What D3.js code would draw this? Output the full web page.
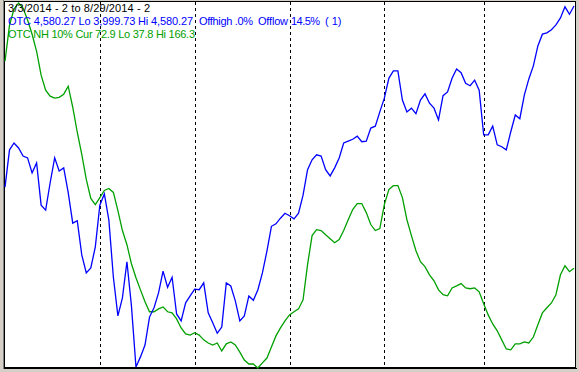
<!DOCTYPE html>
<html>
<head>
<meta charset="utf-8">
<script src="https://cdn.jsdelivr.net/npm/d3@7/dist/d3.min.js"></script>
<style>
  html, body { margin: 0; padding: 0; background: #d4d0c8; }
  svg { display: block; }
  .label { font-family: "Liberation Sans", Arial, sans-serif; font-size: 11px; white-space: pre; }
</style>
</head>
<body>
<div id="chart"></div>
<script>
// OTC close, one value per trading day, 3/3/2014 .. 8/29/2014
const otc = [
  4289, 4349, 4360, 4352, 4339, 4336, 4312, 4328, 4260, 4252,
  4296, 4336, 4315, 4320, 4280, 4231, 4235, 4180, 4151, 4159,
  4193, 4260, 4278, 4236, 4144, 4082, 4111, 4169, 4098, 3999.73,
  4016, 4035, 4080, 4095, 4119, 4154, 4128, 4144, 4085, 4074,
  4103, 4114, 4125, 4124, 4135, 4087, 4071, 4054, 4064, 4135,
  4130, 4106, 4074, 4082, 4114, 4107, 4124, 4151, 4186, 4226,
  4230, 4239, 4247, 4243, 4238, 4247, 4276, 4317, 4333, 4341,
  4339, 4317, 4307, 4320, 4336, 4360, 4363, 4366, 4371, 4362,
  4363, 4384, 4387, 4410, 4432, 4464, 4476, 4476, 4429, 4410,
  4416, 4407, 4429, 4439, 4424, 4416, 4397, 4436, 4442, 4464,
  4479, 4473, 4456, 4452, 4461, 4445, 4373, 4373, 4387, 4357,
  4354, 4349, 4378, 4405, 4399, 4437, 4463, 4484, 4516, 4535,
  4537, 4542, 4550, 4561, 4579, 4567, 4580.27
];

// OTC new highs 10%
const newHighs = [
  145.8, 158.5, 164.2, 166.3, 164.5, 160.3, 155.3, 149.3, 140.9, 135.6,
  133.5, 132.8, 133.1, 134.2, 137.0, 129.6, 120.8, 113.0, 104.2, 97.5,
  95.3, 97.8, 100.3, 101.0, 99.6, 93.2, 86.2, 81.2, 74.5, 69.6,
  65.3, 61.1, 57.6, 57.6, 58.6, 59.3, 57.6, 57.2, 55.1, 51.9,
  49.8, 49.4, 50.2, 49.4, 47.7, 46.6, 45.9, 46.6, 43.8, 46.3,
  47.0, 45.9, 43.4, 40.6, 39.2, 39.2, 37.8, 39.6, 41.3, 45.2,
  49.1, 51.9, 54.4, 56.5, 57.6, 58.6, 61.8, 74.2, 84.4, 86.5,
  86.2, 84.7, 83.3, 81.9, 83.0, 86.2, 90.0, 93.6, 95.7, 95.7,
  92.5, 88.3, 86.2, 86.9, 95.3, 100.6, 102.0, 102.0, 97.8, 90.0,
  84.4, 79.1, 75.2, 73.5, 70.6, 68.5, 65.3, 63.6, 63.2, 66.0,
  66.7, 67.5, 66.0, 65.7, 66.0, 64.6, 60.4, 56.5, 53.3, 50.9,
  47.7, 44.5, 44.2, 46.3, 46.3, 47.0, 46.6, 48.7, 53.0, 57.2,
  59.0, 60.7, 63.6, 70.6, 73.8, 71.7, 72.9
];

// index of the first trading day of each month (Apr .. Aug)
const monthStarts = [21, 42, 63, 84, 106];

const dateRange = "3/3/2014 - 2 to 8/29/2014 - 2";

class OtcChart {
  constructor (opts) {
    this.w = opts.w;
    this.h = opts.h;
    this.blue = opts.blue;
    this.green = opts.green;
  }

  render () {
    this.svg = d3.select('#chart')
                .append('svg')
                .attr('width', this.w)
                .attr('height', this.h);

    this.addFrame();
    this.computeScaleFns();
    this.addMonthLines();
    this.addLines();
    this.addLabels();
  }

  // white plot box with the black border
  addFrame () {
    this.svg.append('rect')
      .attr('x', 4.5).attr('y', 1.5)
      .attr('width', 571).attr('height', 366)
      .attr('fill', '#fff')
      .attr('stroke', '#000')
      .attr('shape-rendering', 'crispEdges');

    // darker edge on the left, double line at the bottom
    this.svg.append('line')
      .attr('x1', 3.5).attr('x2', 3.5).attr('y1', 0).attr('y2', 369)
      .attr('stroke', '#808080');
    this.svg.append('line')
      .attr('x1', 4).attr('x2', 577).attr('y1', 368.5).attr('y2', 368.5)
      .attr('stroke', '#000');
  }

  computeScaleFns () {
    this.x = d3.scaleLinear()
      .domain([0, otc.length - 1])
      .range([5, 574]);

    this.yOtc = d3.scaleLinear()
      .domain(d3.extent(otc))
      .range([367, 6]);

    this.yNh = d3.scaleLinear()
      .domain(d3.extent(newHighs))
      .range([368, 3]);
  }

  addMonthLines () {
    this.svg.selectAll('.month')
      .data(monthStarts)
      .enter().append('line')
      .attr('class', 'month')
      .attr('x1', (d) => Math.round(this.x(d)) + 0.5)
      .attr('x2', (d) => Math.round(this.x(d)) + 0.5)
      .attr('y1', 2)
      .attr('y2', 368)
      .attr('stroke', '#000')
      .attr('stroke-dasharray', '3,3')
      .attr('shape-rendering', 'crispEdges');
  }

  addLines () {
    let lineOtc = d3.line()
      .x((d, i) => this.x(i))
      .y((d) => this.yOtc(d));

    let lineNh = d3.line()
      .x((d, i) => this.x(i))
      .y((d) => this.yNh(d));

    this.svg.append('path')
      .attr('d', lineNh(newHighs))
      .attr('fill', 'none')
      .attr('stroke', this.green)
      .attr('stroke-width', 1.3);

    this.svg.append('path')
      .attr('d', lineOtc(otc))
      .attr('fill', 'none')
      .attr('stroke', this.blue)
      .attr('stroke-width', 1.3);
  }

  // text rows; [x, text, width] so the old bitmap font spacing is kept
  addLabels () {
    let fmt = d3.format(',.2f'),
        hi = d3.max(otc),
        lo = d3.min(otc),
        cur = otc[otc.length - 1],
        pct = (v) => d3.format('.1f')(v).replace(/^0\./, '.') + '%',
        nhCur = newHighs[newHighs.length - 1];

    let rows = [
      { y: 12, color: '#000', items: [[8, dateRange, 142]] },
      { y: 25, color: this.blue, items: [
        [8, `OTC ${fmt(cur)} Lo ${fmt(lo)} Hi ${fmt(hi)}`, 185],
        [199, `Offhigh ${pct((hi - cur) / hi * 100)}`, 54],
        [258, 'Offlow', 30],
        [291, pct((cur - lo) / lo * 100), 29],
        [325, '( 1)', null]
      ]},
      { y: 38, color: this.green, items: [
        [8, `OTC NH 10% Cur ${nhCur.toFixed(1)} Lo ${d3.min(newHighs).toFixed(1)} Hi ${d3.max(newHighs).toFixed(1)}`, 187]
      ]}
    ];

    rows.forEach((row) => {
      this.svg.append('g')
        .selectAll('text')
        .data(row.items)
        .enter().append('text')
        .attr('class', 'label')
        .attr('xml:space', 'preserve')
        .attr('x', (d) => d[0])
        .attr('y', row.y)
        .attr('textLength', (d) => d[2])
        .attr('lengthAdjust', (d) => d[2] ? 'spacing' : null)
        .attr('fill', row.color)
        .text((d) => d[1]);
    });
  }
}

new OtcChart({ w: 579, h: 372, blue: '#0000ff', green: '#00a000' }).render();
</script>
</body>
</html>
